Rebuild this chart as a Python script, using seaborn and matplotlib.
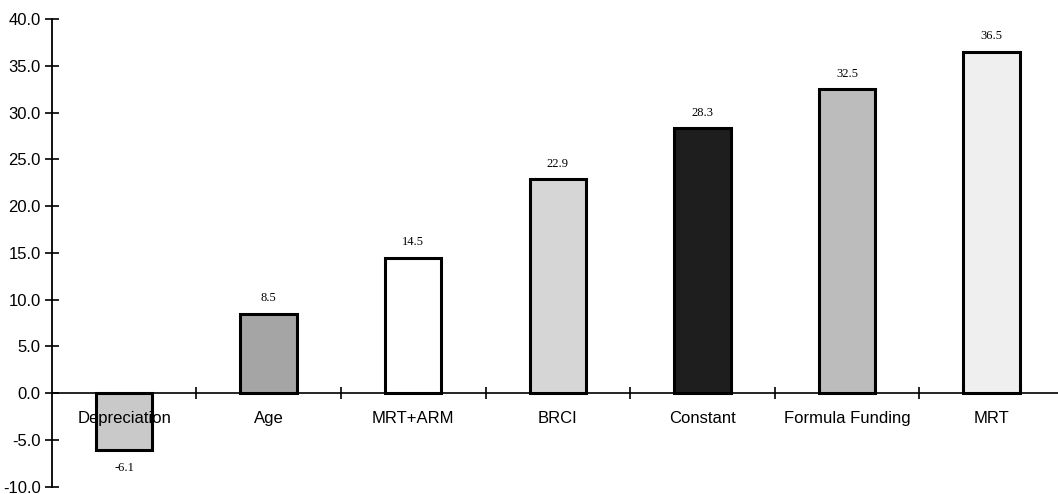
import matplotlib
matplotlib.use("Agg")
import matplotlib.pyplot as plt
import seaborn as sns
import numpy as np

categories = ["Depreciation", "Age", "MRT+ARM", "BRCI", "Constant", "Formula Funding", "MRT"]
values = [-6.1, 8.5, 14.5, 22.9, 28.3, 32.5, 36.5]
bar_colors = ["#c9c9c9", "#a5a5a5", "#ffffff", "#d6d6d6", "#1e1e1e", "#bcbcbc", "#efefef"]
yticks = [-10, -5, 0, 5, 10, 15, 20, 25, 30, 35, 40]

sns.set_theme(style="white")
plt.rcParams["font.family"] = ["Liberation Sans", "DejaVu Sans"]

fig = plt.figure(figsize=(10.58, 4.94), dpi=100)
ax = fig.add_axes([0.049, 0.0145, 0.951, 0.947])

sns.barplot(x=categories, y=values, hue=categories, palette=bar_colors,
            edgecolor="black", linewidth=2.2, width=0.39, legend=False, ax=ax,
            saturation=1)

ax.set_axisbelow(False)
ax.set_xlim(-0.5, 6.46)
ax.set_ylim(-10, 40)

# spines
for s in ["top", "right"]:
    ax.spines[s].set_visible(False)
ax.spines["left"].set_linewidth(1.3)
ax.spines["left"].set_color("black")
ax.spines["bottom"].set_position(("data", 0))
ax.spines["bottom"].set_linewidth(1.2)
ax.spines["bottom"].set_color("black")

# y ticks
ax.set_yticks(yticks)
ax.set_yticklabels([f"{v:.1f}" for v in yticks], fontsize=12, color="black")
ax.tick_params(axis="y", which="major", direction="inout", length=10, width=1.2,
               color="black", left=True, pad=3, labelcolor="black")

# x ticks: boundaries as major ticks, labels at centers as minor ticks
n = len(categories)
ax.set_xticks(np.arange(n - 1) + 0.5)
ax.set_xticklabels([])
ax.set_xticks(np.arange(n), minor=True)
ax.set_xticklabels(categories, minor=True, fontsize=12, color="black")
ax.tick_params(axis="x", which="major", direction="inout", length=9, width=1.2,
               color="black", bottom=True)
ax.tick_params(axis="x", which="minor", length=0, pad=13, labelcolor="black")

ax.set_xlabel("")
ax.set_ylabel("")
ax.grid(False)

# value labels
for i, v in enumerate(values):
    off = 11 if v >= 0 else -13
    ax.annotate(f"{v:.1f}", (i, v), xytext=(0, off), textcoords="offset points",
                ha="center", va="center", fontsize=9, color="black",
                family="Liberation Serif")

fig.savefig("out.png", dpi=100)
